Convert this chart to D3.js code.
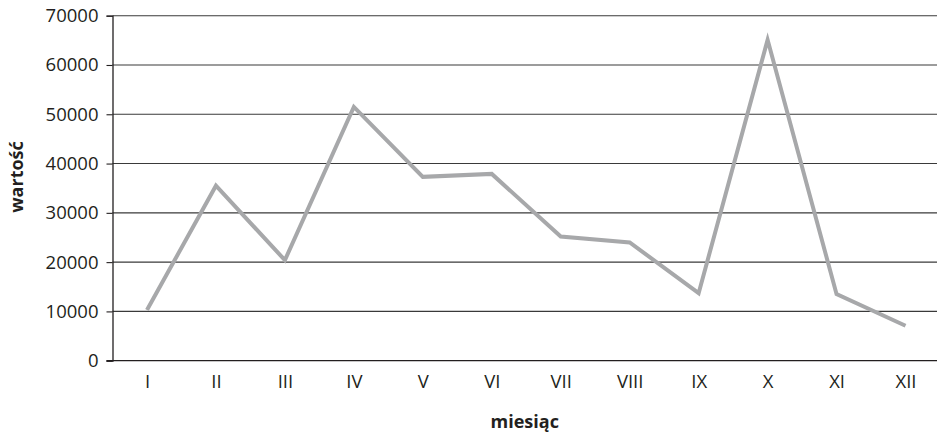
<!DOCTYPE html>
<html>
<head>
<meta charset="utf-8">
<script src="https://cdn.jsdelivr.net/npm/d3@7"></script>
<style>
  html, body { margin: 0; padding: 0; background: #fff; }
  svg text { font-family: "Open Sans", "DejaVu Sans", sans-serif; fill: #231f20; }
</style>
</head>
<body>
<svg id="chart" width="937" height="434"></svg>
<script>
// Monthly values (Roman-numeral months)
const months = ["I", "II", "III", "IV", "V", "VI", "VII", "VIII", "IX", "X", "XI", "XII"];
const values = [10300, 35500, 20400, 51500, 37300, 37900, 25200, 24000, 13700, 65100, 13500, 7100];
const yTicks = [0, 10000, 20000, 30000, 40000, 50000, 60000, 70000];
const xTitle = "miesiąc";
const yTitle = "wartość";

const W = 937, H = 434;
const m = { left: 112.5, right: -3, top: 15.7, bottom: 73.3 };
const svg = d3.select("#chart");

const x = d3.scalePoint()
  .domain(months)
  .range([m.left, W + 3])
  .padding(0.5);

const y = d3.scaleLinear()
  .domain([0, 70000])
  .range([H - m.bottom, m.top]);

// horizontal gridlines
svg.append("g")
  .selectAll("line")
  .data(yTicks.filter(d => d > 0))
  .join("line")
  .attr("x1", m.left).attr("x2", W)
  .attr("y1", d => y(d)).attr("y2", d => y(d))
  .attr("stroke", "#3a3a3a")
  .attr("stroke-width", 1.1);

// y axis
const yAxis = svg.append("g")
  .attr("transform", `translate(${m.left},0)`)
  .call(d3.axisLeft(y).tickValues(yTicks).tickSize(6).tickPadding(8).tickFormat(d3.format("d")));
yAxis.select(".domain").attr("stroke", "#231f20").attr("stroke-width", 1.3);
yAxis.selectAll(".tick line").attr("stroke", "#231f20").attr("stroke-width", 1.1);
yAxis.selectAll("text").attr("font-size", 18.5).attr("fill", "#231f20");

// x axis
const xAxis = svg.append("g")
  .attr("transform", `translate(0,${y(0)})`)
  .call(d3.axisBottom(x).tickSize(0).tickPadding(14));
xAxis.select(".domain").attr("d", `M${m.left - 6},0H${W}`).attr("stroke", "#231f20").attr("stroke-width", 1.3);
xAxis.selectAll("text").attr("font-size", 18.5).attr("fill", "#231f20");

// data line
const line = d3.line()
  .x((d, i) => x(months[i]))
  .y(d => y(d));
svg.append("path")
  .datum(values)
  .attr("d", line)
  .attr("fill", "none")
  .attr("stroke", "#a7a8aa")
  .attr("stroke-width", 4)
  .attr("stroke-linejoin", "miter");

// axis titles
svg.append("text")
  .attr("x", (m.left + W) / 2)
  .attr("y", 428)
  .attr("text-anchor", "middle")
  .attr("font-size", 18)
  .attr("font-weight", "bold")
  .text(xTitle);

svg.append("text")
  .attr("transform", `translate(23,177) rotate(-90)`)
  .attr("text-anchor", "middle")
  .attr("font-size", 18)
  .attr("font-weight", "bold")
  .text(yTitle);
</script>
</body>
</html>
